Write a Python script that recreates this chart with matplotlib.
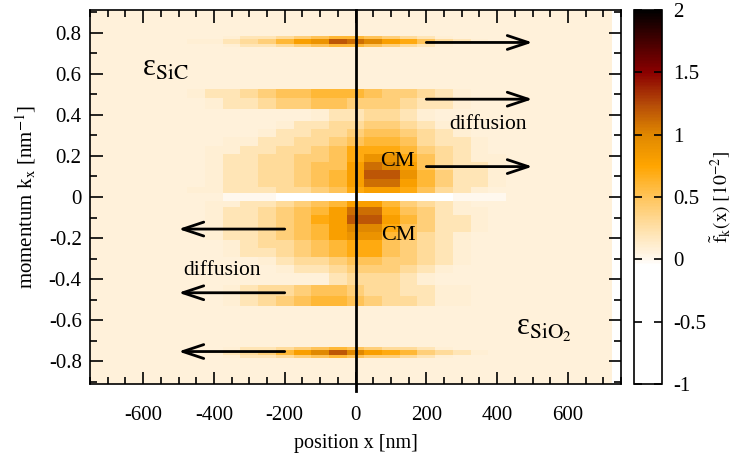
import numpy as np
import matplotlib
matplotlib.use('Agg')
import matplotlib.pyplot as plt
from matplotlib.colors import LinearSegmentedColormap
from matplotlib.ticker import MultipleLocator, FuncFormatter

plt.rcParams['font.family'] = 'Liberation Serif'
plt.rcParams['mathtext.fontset'] = 'stix'
plt.rcParams['axes.unicode_minus'] = False

# cell centres along x (nm), one character per cell in the rows below
x_centers = np.arange(-750, 701, 50)

# row edges in k (nm^-1), bottom to top
k_edges = [-0.91, -0.785, -0.77, -0.745, -0.73, -0.53, -0.48, -0.43, -0.37,
           -0.33, -0.29, -0.25, -0.21, -0.17, -0.13, -0.09, -0.05, -0.02,
           0.02, 0.05, 0.09, 0.13, 0.17, 0.21, 0.25, 0.29, 0.33, 0.37,
           0.43, 0.48, 0.525, 0.73, 0.745, 0.77, 0.785, 0.91]

# f_k(x): '.' background, 'w' negative (white),
# hex digit = value / 10 (in units of 10^-2)
rows = [
    "..............................",
    "........1223456544321.........",
    ".......123468ACA8764321.......",
    "........1223456543321.........",
    "..............................",
    "........12345665433211........",
    "........12334554332211........",
    "..............233321..........",
    "...........1223444321.........",
    "..........123345544321........",
    "........12234567754321........",
    "........12334567754321........",
    ".......122345689965321........",
    ".......12234568AA754221.......",
    ".......12234578CC864221.......",
    ".......12234568BB754211.......",
    ".......112234568864321........",
    "........000wwwwwwwwww000......",
    "......11222334578875321.......",
    ".......122334568BB864221......",
    ".......122334568CC964221......",
    ".......122334558BA853221......",
    ".......12233445799753211......",
    ".......1122334577764321.......",
    "........112233456653221.......",
    "..........122334554321........",
    "...........1223344321.........",
    ".............1223321..........",
    ".......122344554443221........",
    "......1223455666544321........",
    "..............................",
    "........1223456654321.........",
    "......11234689CBA875321.......",
    "........1223456654321.........",
    "..............................",
]


def decode(c):
    if c == '.':
        return 0.07
    if c == 'w':
        return -0.3
    return int(c, 16) / 10.0


z = np.array([[decode(c) for c in r] for r in rows])

cmap = LinearSegmentedColormap.from_list('fk', [
    (0.0, '#ffffff'),
    (0.95 / 3, '#ffffff'),
    (1.0 / 3, '#fff8ee'),
    (1.25 / 3, '#ffe0a8'),
    (1.5 / 3, '#ffc45a'),
    (1.75 / 3, '#ffa500'),
    (2.0 / 3, '#e08800'),
    (2.25 / 3, '#b44a08'),
    (2.5 / 3, '#8b0000'),
    (2.75 / 3, '#460000'),
    (1.0, '#000000'),
])

fig = plt.figure(figsize=(7.46, 4.63), dpi=100)
ax = fig.add_axes([90 / 746, 79 / 463, 531 / 746, 374 / 463])
cax = fig.add_axes([634 / 746, 79 / 463, 28 / 746, 374 / 463])

x_edges = np.append(x_centers - 25, x_centers[-1] + 25)
mesh = ax.pcolormesh(x_edges, k_edges, z, cmap=cmap, vmin=-1, vmax=2,
                     shading='flat')
ax.set_xlim(-750, 750)
ax.set_ylim(-0.91, 0.91)

ax.plot([0, 0], [-0.945, 0.91], color='k', lw=2, clip_on=False, zorder=3)

arr = dict(arrowstyle='->,head_length=1.5,head_width=0.5', lw=2, color='k',
           shrinkA=0, shrinkB=0)
for k in [0.752, 0.476, 0.148]:
    ax.annotate('', xy=(500, k), xytext=(200, k), arrowprops=arr)
for k in [-0.156, -0.466, -0.752]:
    ax.annotate('', xy=(-500, k), xytext=(-200, k), arrowprops=arr)

ax.text(119, 0.172, 'CM', fontsize=16, ha='center', va='center')
ax.text(122, -0.189, 'CM', fontsize=16, ha='center', va='center')
ax.text(373, 0.353, 'diffusion', fontsize=15.5, ha='center', va='center')
ax.text(-376, -0.356, 'diffusion', fontsize=15.5, ha='center', va='center')
ax.text(-603, 0.59, r'ε$_{\mathrm{SiC}}$', fontsize=22,
        ha='left', va='baseline')
ax.text(453, -0.669, r'ε$_{\mathrm{SiO_2}}$', fontsize=22,
        ha='left', va='baseline')

ax.xaxis.set_major_locator(MultipleLocator(200))
ax.xaxis.set_minor_locator(MultipleLocator(50))
ax.yaxis.set_major_locator(MultipleLocator(0.2))
ax.yaxis.set_minor_locator(MultipleLocator(0.1))
ax.yaxis.set_major_formatter(FuncFormatter(lambda v, p: '%g' % round(v, 2)))
ax.set_xticks([-600, -400, -200, 0, 200, 400, 600])
ax.tick_params(which='both', direction='in', top=True, right=True,
               width=1.2, labelsize=15)
ax.tick_params(which='major', length=9)
ax.tick_params(which='minor', length=5)
ax.tick_params(axis='x', pad=16)
ax.tick_params(axis='y', pad=6)
for s in ax.spines.values():
    s.set_linewidth(1.2)

ax.set_xlabel('position x [nm]', fontsize=14.5, labelpad=6)
ax.set_ylabel(r'momentum k$_\mathrm{x}$ [nm$^{-1}$]', fontsize=15, labelpad=8)

cb = fig.colorbar(mesh, cax=cax, ticks=[-1, -0.5, 0, 0.5, 1, 1.5, 2])
cb.ax.yaxis.set_major_formatter(FuncFormatter(lambda v, p: '%g' % v))
cb.ax.tick_params(direction='in', length=6, width=1.2, left=True, right=True,
                  labelsize=15, pad=8)
cb.outline.set_linewidth(1.2)
cb.set_label(r'$\tilde{\mathrm{f}}_{\mathrm{k}}(\mathrm{x})\ [10^{-2}]$',
             fontsize=14, labelpad=2)

fig.savefig('out.png', dpi=100)
